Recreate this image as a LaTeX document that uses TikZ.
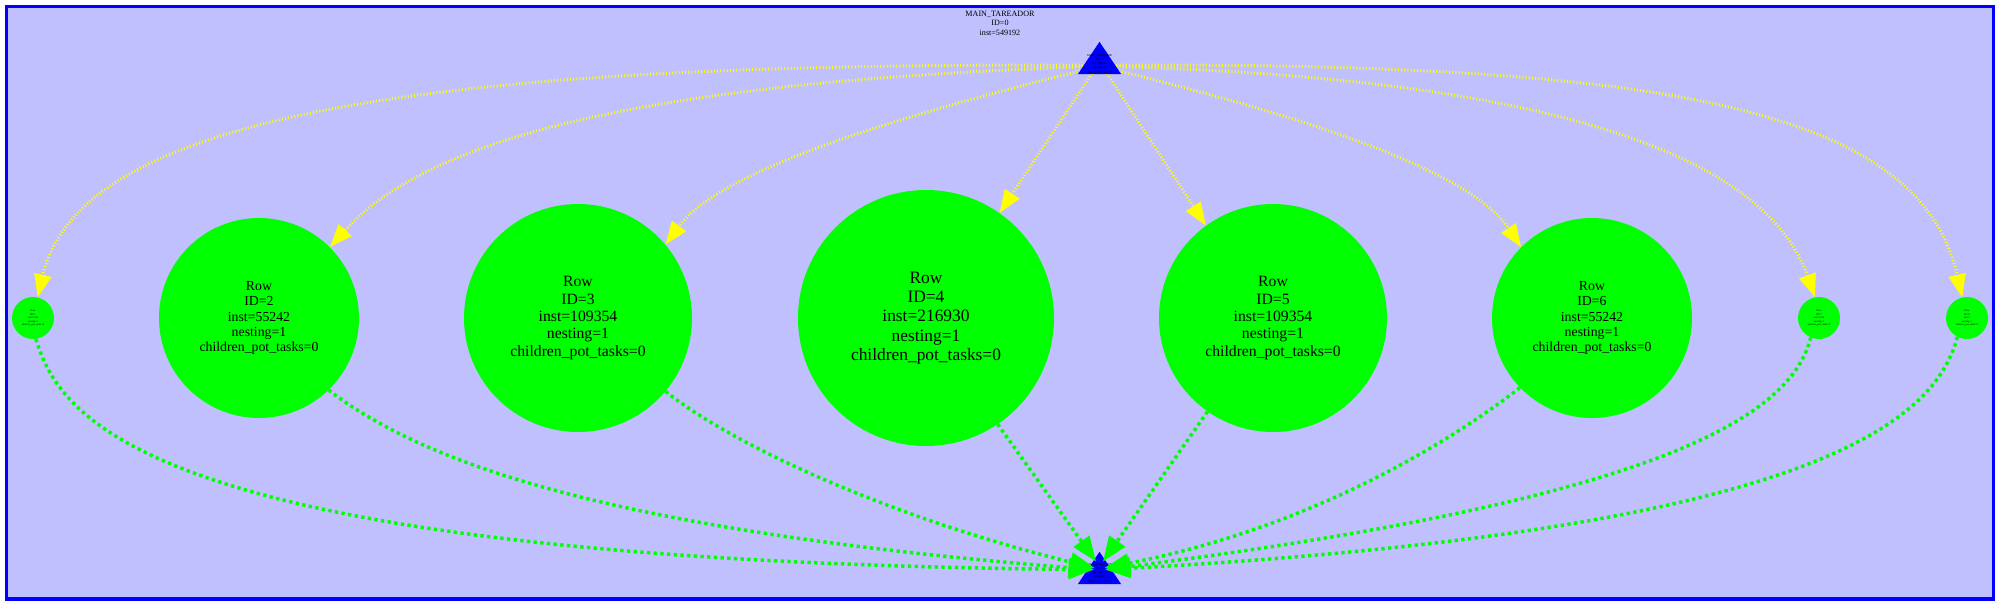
\documentclass[tikz,border=0pt]{standalone}
\usepackage{fontspec}
\setmainfont{Liberation Serif}
\usetikzlibrary{arrows.meta,calc}
\definecolor{bgc}{RGB}{192,192,255}
\definecolor{gc}{RGB}{0,255,0}
\definecolor{yc}{RGB}{255,255,0}
\definecolor{bc}{RGB}{0,0,255}
\begin{document}
\begin{tikzpicture}[x=1pt,y=-1pt,
  task/.style={circle,fill=gc,inner sep=0pt,align=center,text=black},
  big/.style={task,minimum size=256pt,font=\fontsize{17.4}{19.3}\selectfont},
  mid/.style={task,minimum size=228pt,font=\fontsize{15.7}{17.3}\selectfont},
  sml/.style={task,minimum size=200pt,font=\fontsize{13.8}{15.2}\selectfont},
  tiny/.style={task,minimum size=42pt,font=\fontsize{2.6}{3.5}\selectfont},
  yedge/.style={draw=yc,line width=3pt,dash pattern=on 1pt off 2.2pt,-{Triangle[length=23pt,width=17pt]}},
  gedge/.style={draw=gc,line width=3.5pt,dash pattern=on 3.3pt off 3.4pt,-{Triangle[length=25pt,width=19pt]}},
  trilabel/.style={font=\fontsize{2.9}{4.2}\selectfont,align=center,inner sep=0pt,text=black},
  anchorbox/.style={inner sep=0pt,minimum width=43pt,minimum height=32pt}
]
\useasboundingbox (0,0) rectangle (2000,606);
\fill[white] (0,0) rectangle (2000,606);
\filldraw[fill=bgc,draw=bc,line width=3.5pt] (6.5,6.5) rectangle (1993.5,599);

\node[font=\fontsize{8.1}{9.4}\selectfont,align=center,inner sep=0pt] (title) at (1000,23) {MAIN\_TAREADOR\\ID=0\\inst=549192};

\node[tiny] (s1) at (33,318) {Row\\ID=1\\inst=1535\\nesting=1\\children\_pot\_tasks=0};
\node[sml] (r2) at (259,318) {Row\\ID=2\\inst=55242\\nesting=1\\children\_pot\_tasks=0};
\node[mid] (r3) at (578,318) {Row\\ID=3\\inst=109354\\nesting=1\\children\_pot\_tasks=0};
\node[big] (r4) at (926,318) {Row\\ID=4\\inst=216930\\nesting=1\\children\_pot\_tasks=0};
\node[mid] (r5) at (1273,318) {Row\\ID=5\\inst=109354\\nesting=1\\children\_pot\_tasks=0};
\node[sml] (r6) at (1592,318) {Row\\ID=6\\inst=55242\\nesting=1\\children\_pot\_tasks=0};
\node[tiny] (s7) at (1819,318) {Row\\ID=7\\inst=1534\\nesting=1\\children\_pot\_tasks=0};
\node[tiny] (s8) at (1967,318) {Row\\ID=8\\inst=1\\nesting=1\\children\_pot\_tasks=0};

\node[anchorbox] (top) at (1099.5,58) {};
\node[anchorbox] (bot) at (1099.5,568) {};

% yellow edges
\draw[yedge] ($(top.south)+(-4,-9)$) .. controls (440,62) and (80,112) .. (s1.77);
\draw[yedge] ($(top.south)+(-4,-8)$) .. controls (700,80) and (440,125) .. (r2.45);
\draw[yedge] ($(top.south)+(-4,-7)$) .. controls (900,115) and (720,170) .. (r3.40);
\draw[yedge] ($(top.south)+(-4,-6)$) -- (r4.55);
\draw[yedge] ($(top.south)+(4,-6)$) -- (r5.126);
\draw[yedge] ($(top.south)+(4,-7)$) .. controls (1300,115) and (1470,170) .. (r6.135);
\draw[yedge] ($(top.south)+(4,-8)$) .. controls (1500,76) and (1760,140) .. (s7.101);
\draw[yedge] ($(top.south)+(4,-9)$) .. controls (1680,62) and (1920,112) .. (s8.103);

% triangles
\fill[bc] (top.north) -- (top.south east) -- (top.south west) -- cycle;
\fill[bc] (bot.north) -- (bot.south east) -- (bot.south west) -- cycle;
\node[trilabel] (toptext) at (1099.5,64) {MAIN\_TAREADOR\\ID=0\\inst=549192\\nesting=0\\children\_pot\_tasks=8};
\node[trilabel] (bottext) at (1099.5,573) {MAIN\_TAREADOR\\ID=0\\inst=549192\\nesting=0\\children\_pot\_tasks=8};

% green edges
\draw[gedge] (s1.-82) .. controls (60,420) and (150,560) .. ($(bot.north)!0.55!(bot.south west)+(6,0)$);
\draw[gedge] (r2.-46) .. controls (420,460) and (600,530) .. ($(bot.north)!0.55!(bot.south west)+(6,0)$);
\draw[gedge] (r3.-40) .. controls (740,450) and (900,520) .. ($(bot.north)!0.5!(bot.south west)+(6,0)$);
\draw[gedge] (r4.-56) -- ($(bot.north)!0.3!(bot.south west)+(3,0)$);
\draw[gedge] (r5.-125) -- ($(bot.north)!0.3!(bot.south east)+(-3,0)$);
\draw[gedge] (r6.-136) .. controls (1440,450) and (1300,530) .. ($(bot.north)!0.5!(bot.south east)+(-6,0)$);
\draw[gedge] (s7.-113) .. controls (1790,420) and (1650,500) .. ($(bot.north)!0.55!(bot.south east)+(-6,0)$);
\draw[gedge] (s8.-117) .. controls (1935,420) and (1820,530) .. ($(bot.north)!0.55!(bot.south east)+(-6,0)$);
\end{tikzpicture}
\end{document}
